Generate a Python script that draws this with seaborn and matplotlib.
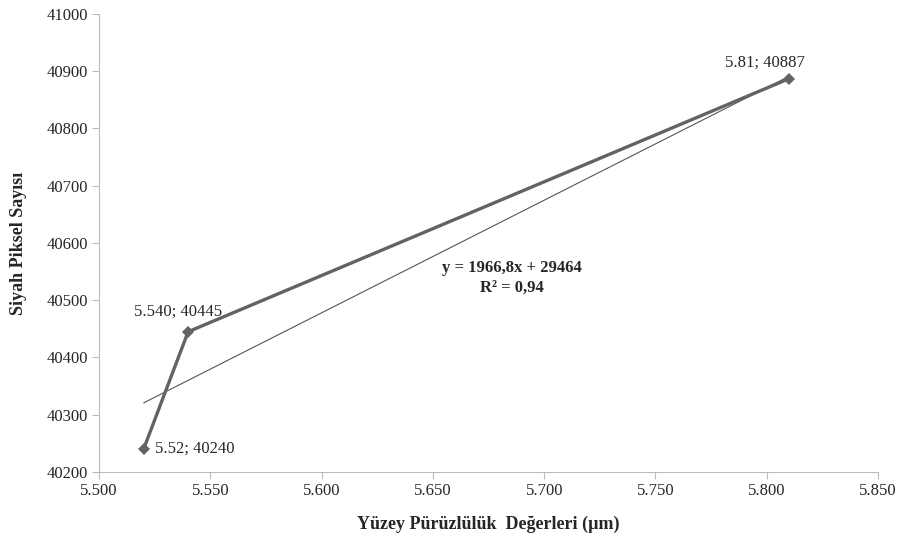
import numpy as np
import pandas as pd
import matplotlib.pyplot as plt
import seaborn as sns

# data
x_vals = [5.52, 5.54, 5.81]
y_vals = [40240, 40445, 40887]
point_labels = ["5.52; 40240", "5.540; 40445", "5.81; 40887"]
trend_slope = 1966.8
trend_intercept = 29464
x_ticks = [5.500, 5.550, 5.600, 5.650, 5.700, 5.750, 5.800, 5.850]
y_ticks = [40200, 40300, 40400, 40500, 40600, 40700, 40800, 40900, 41000]

sns.set_style("white")
serif = ['Liberation Serif', 'DejaVu Serif']
plt.rcParams['font.family'] = 'serif'
plt.rcParams['font.serif'] = serif

df = pd.DataFrame({'x': x_vals, 'y': y_vals})
trend_x = np.array([min(x_vals), max(x_vals)])
trend = pd.DataFrame({'x': trend_x, 'y': trend_slope * trend_x + trend_intercept})

fig = plt.figure(figsize=(9.01, 5.36), dpi=100)
ax = fig.add_axes([0.110, 0.1194, 0.8645, 0.8545])

sns.lineplot(data=trend, x='x', y='y', ax=ax, color='#555555', linewidth=0.8, sort=False)
sns.lineplot(data=df, x='x', y='y', ax=ax, color='#636363', linewidth=2.4, sort=False,
             marker='D', markersize=6, markeredgewidth=0)

# point labels
offsets = [(8, 0, 'left', 'center'), (-7, 9, 'center', 'bottom'), (-17, 6, 'center', 'bottom')]
for xv, yv, lab, (dx, dy, ha, va) in zip(x_vals, y_vals, point_labels, offsets):
    ax.annotate(lab, (xv, yv), xytext=(dx, dy), textcoords='offset points',
                ha=ha, va=va, fontsize=12, family=serif)

ax.text(5.6855, 40556, "y = 1966,8x + 29464", ha='center', va='center',
        fontsize=12, fontweight='bold', family=serif)
ax.text(5.6855, 40522, "R² = 0,94", ha='center', va='center',
        fontsize=12, fontweight='bold', family=serif)

ax.set_xlim(5.500, 5.850)
ax.set_ylim(40200, 41000)
ax.set_xticks(x_ticks)
ax.set_xticklabels([f"{t:.3f}" for t in x_ticks])
ax.set_yticks(y_ticks)
ax.set_yticklabels([str(t) for t in y_ticks])
ax.tick_params(axis='both', labelsize=12, length=5, width=0.8, color='#bbbbbb',
               direction='out', left=True, bottom=True, pad=3)
for lab in ax.get_xticklabels() + ax.get_yticklabels():
    lab.set_fontfamily(serif)

for side in ['top', 'right']:
    ax.spines[side].set_visible(False)
for side in ['left', 'bottom']:
    ax.spines[side].set_color('#bbbbbb')
    ax.spines[side].set_linewidth(0.8)

ax.set_xlabel("Yüzey Pürüzlülük  Değerleri (µm)", fontsize=13, fontweight='bold',
              labelpad=12, family=serif)
ax.set_ylabel("Siyah Piksel Sayısı", fontsize=13, fontweight='bold', labelpad=14,
              family=serif)

fig.savefig('out.png', dpi=100)
